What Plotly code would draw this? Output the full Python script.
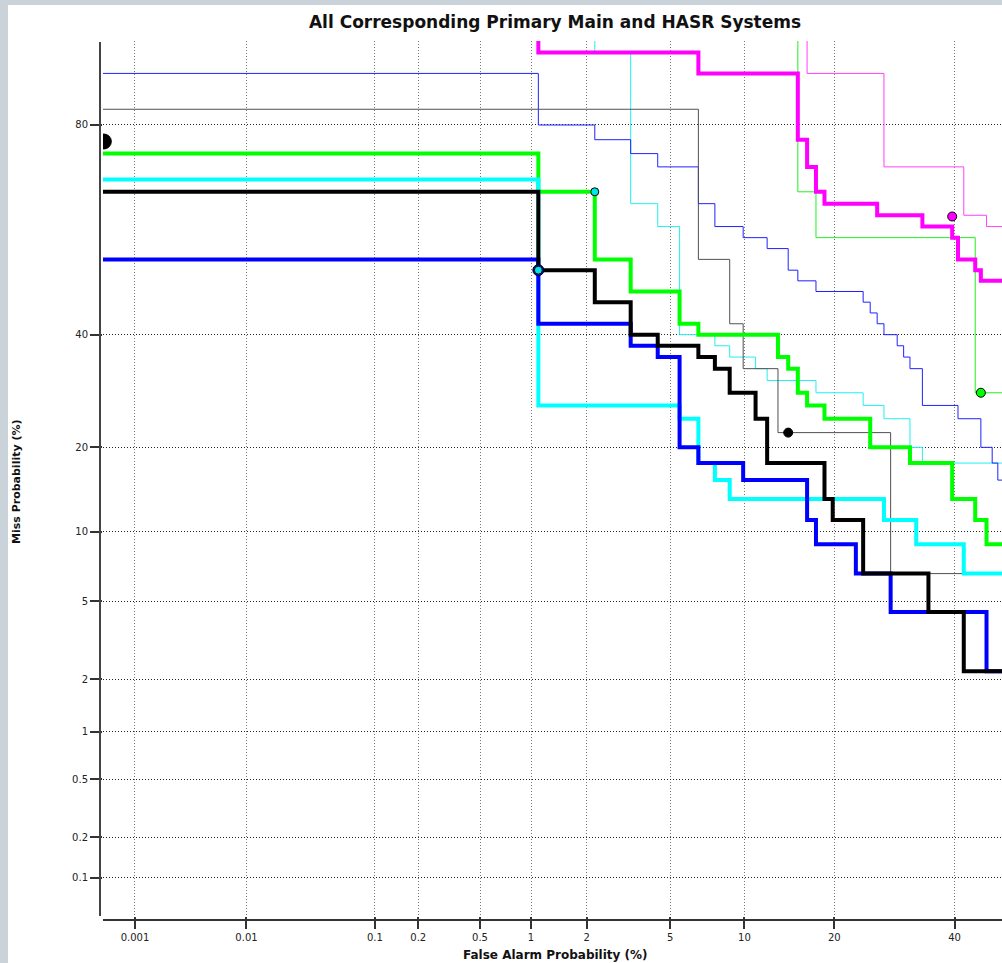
import plotly.graph_objects as go
from statistics import NormalDist

ND = NormalDist()


def probit(p):
    return [ND.inv_cdf(v / 100.0) for v in p]


# ---------------- data (percent) ----------------
START = 0.0001
END = 50.0

x_tick_vals = [0.001, 0.01, 0.1, 0.2, 0.5, 1, 2, 5, 10, 20, 40]
x_tick_text = ["0.001", "0.01", "0.1", "0.2", "0.5", "1", "2", "5", "10", "20", "40"]
y_tick_vals = [0.1, 0.2, 0.5, 1, 2, 5, 10, 20, 40, 80]
y_tick_text = ["0.1", "0.2", "0.5", "1", "2", "5", "10", "20", "40", "80"]

# thin curves
magenta_thin_fa = [START, 16.48, 27.47, 41.76, 46.15, END]
magenta_thin_miss = [99.0, 86.67, 73.33, 64.44, 62.22, 62.22]

green_thin_fa = [START, 15.38, 17.58, 43.96, END]
green_thin_miss = [99.0, 68.89, 60.00, 28.89, 28.89]

cyan_thin_fa = [START, 2.20, 3.30, 4.40, 5.49, 7.69, 8.79, 10.99, 12.09, 17.58,
                24.18, 27.47, 31.87, 34.07, END]
cyan_thin_miss = [99.0, 88.89, 66.67, 62.22, 40.00, 37.78, 35.56, 33.33, 31.11, 28.89,
                  26.67, 24.44, 20.00, 17.78, 17.78]

blue_thin_fa = [START, 1.10, 2.20, 3.30, 4.40, 6.59, 7.69, 9.89, 12.09, 14.29, 15.38,
                17.58, 24.18, 25.27, 26.37, 27.47, 29.67, 30.77, 31.87, 34.07, 40.66,
                45.05, 47.25, 48.35, END]
blue_thin_miss = [86.67, 80.00, 77.78, 75.56, 73.33, 66.67, 62.22, 60.00, 57.78, 53.33,
                  51.11, 48.89, 46.67, 44.44, 42.22, 40.00, 37.78, 35.56, 33.33, 26.67,
                  24.44, 20.00, 17.78, 15.56, 15.56]

black_thin_fa = [START, 6.59, 8.79, 9.89, 13.19, 28.57, END]
black_thin_miss = [82.22, 55.56, 42.22, 33.33, 22.22, 6.67, 6.67]

# thick curves
magenta_fa = [START, 1.10, 6.59, 15.38, 16.48, 17.58, 18.68, 26.37, 34.07, 39.56,
              40.66, 43.96, 45.05, END]
magenta_miss = [99.0, 88.89, 86.67, 77.78, 73.33, 68.89, 66.67, 64.44, 62.22, 60.00,
                55.56, 53.33, 51.11, 51.11]

green_fa = [START, 1.10, 2.20, 3.30, 5.49, 6.59, 13.19, 14.29, 15.38, 16.48, 18.68,
            25.27, 31.87, 39.56, 43.96, 46.15, END]
green_miss = [75.56, 68.89, 55.56, 48.89, 42.22, 40.00, 35.56, 33.33, 28.89, 26.67,
              24.44, 20.00, 17.78, 13.33, 11.11, 8.89, 8.89]

cyan_fa = [START, 1.10, 5.49, 6.59, 7.69, 8.79, 27.47, 32.97, 41.76, END]
cyan_miss = [71.11, 26.67, 24.44, 17.78, 15.56, 13.33, 11.11, 8.89, 6.67, 6.67]

blue_fa = [START, 1.10, 3.30, 4.40, 5.49, 6.59, 9.89, 16.48, 17.58, 23.08, 28.57,
           46.15, END]
blue_miss = [55.56, 42.22, 37.78, 35.56, 20.00, 17.78, 15.56, 11.11, 8.89, 6.67, 4.44,
             2.22, 2.22]

black_fa = [START, 1.10, 2.20, 3.30, 4.40, 6.59, 7.69, 8.79, 10.99, 12.09, 18.68,
            19.78, 24.18, 35.16, 41.76, END]
black_miss = [68.89, 53.33, 46.67, 40.00, 37.78, 35.56, 33.33, 28.89, 24.44, 17.78,
              13.33, 11.11, 6.67, 4.44, 2.22, 2.22]

# operating-point markers
marker_fa = [0.0005, 1.10, 1.10, 2.20, 14.29, 39.56, 45.05]
marker_miss = [77.5, 53.33, 53.33, 68.89, 22.22, 64.2, 28.89]
marker_fill = ["#000000", "#0000FF", "#00E5E5", "#00E5E5", "#000000", "#FF00FF", "#00FF00"]
marker_size = [15, 11, 8, 8, 9, 9, 9]

# ---------------- figure ----------------
W, H = 1002, 963
L, R, T, B = 103, 0, 41, 47
PW, PH = W - L - R, H - T - B

fig = go.Figure()


def add_curve(fa, miss, color, width):
    fig.add_trace(go.Scatter(
        x=probit(fa), y=probit(miss), mode="lines",
        line=dict(color=color, width=width, shape="hv"),
        hoverinfo="skip", showlegend=False))


add_curve(magenta_thin_fa, magenta_thin_miss, "#FF40FF", 1)
add_curve(green_thin_fa, green_thin_miss, "#20F020", 1)
add_curve(cyan_thin_fa, cyan_thin_miss, "#20F0F0", 1)
add_curve(blue_thin_fa, blue_thin_miss, "#2020FF", 1)
add_curve(black_thin_fa, black_thin_miss, "#505050", 1)

add_curve(magenta_fa, magenta_miss, "#FF00FF", 4)
add_curve(green_fa, green_miss, "#00FF00", 4)
add_curve(cyan_fa, cyan_miss, "#00FFFF", 4)
add_curve(blue_fa, blue_miss, "#0000FF", 4)
add_curve(black_fa, black_miss, "#000000", 4)

fig.add_trace(go.Scatter(
    x=probit(marker_fa), y=probit(marker_miss), mode="markers",
    marker=dict(color=marker_fill, size=marker_size, opacity=1,
                line=dict(color="#000000", width=1)),
    hoverinfo="skip", showlegend=False))

x_range = [-4.4213, -0.0209]
y_range = [-3.2889, 1.2802]

grid_dash = "1px,2px"
fig.update_xaxes(
    range=x_range, tickvals=probit(x_tick_vals), ticktext=x_tick_text,
    showgrid=True, gridcolor="#777777", gridwidth=1, griddash=grid_dash,
    ticks="outside", ticklen=12, tickwidth=1.5, tickcolor="#333333",
    tickfont=dict(family="DejaVu Sans", size=10, color="#222222"),
    zeroline=False, showline=False, fixedrange=True)
fig.update_yaxes(
    range=y_range, tickvals=probit(y_tick_vals), ticktext=y_tick_text,
    showgrid=True, gridcolor="#222222", gridwidth=1, griddash=grid_dash,
    ticks="outside", ticklen=12, tickwidth=1.5, tickcolor="#333333",
    tickfont=dict(family="DejaVu Sans", size=10, color="#222222"),
    zeroline=False, showline=False, fixedrange=True)


def px_x(p):
    return (p - L) / PW


def px_y(p):
    return (T + PH - p) / PH


shapes = [
    # left and top grey frame strips
    dict(type="rect", xref="paper", yref="paper", x0=px_x(0), x1=px_x(8),
         y0=px_y(963), y1=px_y(0), fillcolor="#C9D3D9", line=dict(width=0), layer="above"),
    dict(type="rect", xref="paper", yref="paper", x0=px_x(0), x1=px_x(1002),
         y0=px_y(5), y1=px_y(0), fillcolor="#C9D3D9", line=dict(width=0), layer="above"),
    # axis lines (offset from plot area)
    dict(type="line", xref="paper", yref="paper", x0=px_x(100), x1=px_x(100),
         y0=px_y(916), y1=px_y(42), line=dict(color="#444444", width=2), layer="above"),
    dict(type="line", xref="paper", yref="paper", x0=px_x(103), x1=px_x(1002),
         y0=px_y(920), y1=px_y(920), line=dict(color="#333333", width=2), layer="above"),
]

annotations = [
    dict(text="<b>False Alarm Probability (%)</b>", xref="paper", yref="paper",
         x=px_x(555), y=px_y(955), xanchor="center", yanchor="middle", showarrow=False,
         font=dict(family="DejaVu Sans", size=12, color="#111111")),
    dict(text="<b>Miss Probability (%)</b>", xref="paper", yref="paper",
         x=px_x(16), y=px_y(482), xanchor="center", yanchor="middle", showarrow=False,
         textangle=-90, font=dict(family="DejaVu Sans", size=11, color="#111111")),
]

fig.update_layout(
    width=W, height=H,
    margin=dict(l=L, r=R, t=T, b=B, pad=0),
    paper_bgcolor="white", plot_bgcolor="white",
    title=dict(text="<b>All Corresponding Primary Main and HASR Systems</b>",
               x=555 / W, xref="container", xanchor="center",
               y=1 - 22 / H, yref="container", yanchor="middle",
               font=dict(family="DejaVu Sans", size=17, color="#111111")),
    shapes=shapes, annotations=annotations, showlegend=False,
)

fig.write_html(
    "out.html",
    config={"displayModeBar": False},
    post_script="document.body.style.margin='0';document.body.style.overflow='hidden';",
)
